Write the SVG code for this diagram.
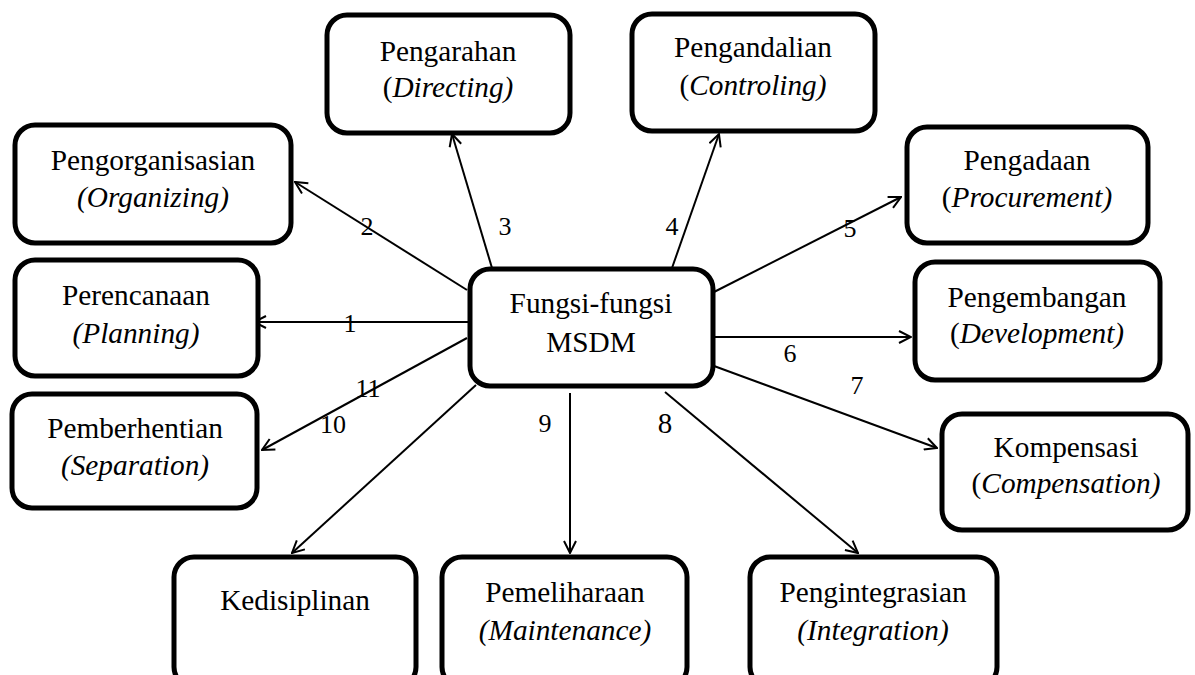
<svg xmlns="http://www.w3.org/2000/svg" width="1195" height="675" viewBox="0 0 1195 675">
<style>
.box{fill:#fff;stroke:#000;stroke-width:5}
.t{font-family:'Liberation Serif','Times New Roman',Times,'DejaVu Serif',serif;font-size:29.3px;fill:#000;text-anchor:middle}
.i{font-style:italic}
.n{font-family:'Liberation Serif','Times New Roman',Times,'DejaVu Serif',serif;font-size:26px;fill:#000;text-anchor:middle}
.c{stroke:#000;stroke-width:2;fill:none;marker-end:url(#ah)}
</style>
<defs>
<marker id="ah" viewBox="0 0 14 14" refX="13" refY="7" markerWidth="14" markerHeight="14" markerUnits="userSpaceOnUse" orient="auto">
<path d="M1,1 L13,7 L1,13" fill="none" stroke="#000" stroke-width="2"/>
</marker>
</defs>
<rect width="1195" height="675" fill="#fff"/>
<g id="connectors">
<line class="c" x1="470" y1="322" x2="254" y2="322"/>
<line class="c" x1="467" y1="290" x2="295" y2="182"/>
<line class="c" x1="492" y1="268" x2="452" y2="134"/>
<line class="c" x1="672" y1="268" x2="719" y2="134"/>
<line class="c" x1="714" y1="292" x2="901" y2="197"/>
<line class="c" x1="714" y1="337" x2="911" y2="337"/>
<line class="c" x1="714" y1="366" x2="937" y2="448"/>
<line class="c" x1="665" y1="392" x2="858" y2="553"/>
<line class="c" x1="570" y1="393" x2="570" y2="553"/>
<line class="c" x1="476" y1="385" x2="292" y2="553"/>
<line class="c" x1="467" y1="338" x2="262" y2="450"/>
<text class="n" x="350" y="332">1</text>
<text class="n" x="367" y="235">2</text>
<text class="n" x="505" y="235">3</text>
<text class="n" x="672" y="235">4</text>
<text class="n" x="850" y="237">5</text>
<text class="n" x="790" y="362">6</text>
<text class="n" x="857" y="394">7</text>
<text class="n" x="665" y="433" style="font-size:29px">8</text>
<text class="n" x="545" y="432">9</text>
<text class="n" x="333" y="433">10</text>
<text class="n" x="368" y="397">11</text>
</g>
<g id="center">
<rect class="box" x="470" y="269" width="243" height="117" rx="20"/>
<text class="t" x="591" y="313">Fungsi-fungsi</text>
<text class="t" x="591" y="352">MSDM</text>
</g>
<g id="pengarahan">
<rect class="box" x="327" y="15" width="243" height="118" rx="20"/>
<text class="t" x="448" y="61">Pengarahan</text>
<text class="t" x="448" y="97">(<tspan class="i">Directing)</tspan></text>
</g>
<g id="pengandalian">
<rect class="box" x="632" y="14" width="243" height="117" rx="20"/>
<text class="t" x="753" y="57">Pengandalian</text>
<text class="t" x="753" y="95">(<tspan class="i">Controling)</tspan></text>
</g>
<g id="pengorganisasian">
<rect class="box" x="15" y="125" width="276" height="118" rx="20"/>
<text class="t" x="153" y="170">Pengorganisasian</text>
<text class="t i" x="153" y="207">(Organizing)</text>
</g>
<g id="pengadaan">
<rect class="box" x="907" y="127" width="241" height="116" rx="20"/>
<text class="t" x="1027" y="170">Pengadaan</text>
<text class="t" x="1027" y="207">(<tspan class="i">Procurement)</tspan></text>
</g>
<g id="perencanaan">
<rect class="box" x="15" y="260" width="243" height="116" rx="20"/>
<text class="t" x="136" y="305">Perencanaan</text>
<text class="t i" x="136" y="343">(Planning)</text>
</g>
<g id="pengembangan">
<rect class="box" x="915" y="262" width="245" height="118" rx="20"/>
<text class="t" x="1037" y="307">Pengembangan</text>
<text class="t" x="1037" y="343">(<tspan class="i">Development)</tspan></text>
</g>
<g id="pemberhentian">
<rect class="box" x="12" y="394" width="245" height="114" rx="20"/>
<text class="t" x="135" y="438">Pemberhentian</text>
<text class="t i" x="135" y="475">(Separation)</text>
</g>
<g id="kompensasi">
<rect class="box" x="942" y="414" width="246" height="116" rx="20"/>
<text class="t" x="1066" y="457">Kompensasi</text>
<text class="t" x="1066" y="493">(<tspan class="i">Compensation)</tspan></text>
</g>
<g id="kedisiplinan">
<rect class="box" x="174" y="557" width="242" height="130" rx="20"/>
<text class="t" x="295" y="610">Kedisiplinan</text>
</g>
<g id="pemeliharaan">
<rect class="box" x="442" y="557" width="245" height="130" rx="20"/>
<text class="t" x="565" y="602">Pemeliharaan</text>
<text class="t i" x="565" y="640">(Maintenance)</text>
</g>
<g id="pengintegrasian">
<rect class="box" x="750" y="557" width="247" height="130" rx="20"/>
<text class="t" x="873" y="602">Pengintegrasian</text>
<text class="t i" x="873" y="640">(Integration)</text>
</g>
</svg>
